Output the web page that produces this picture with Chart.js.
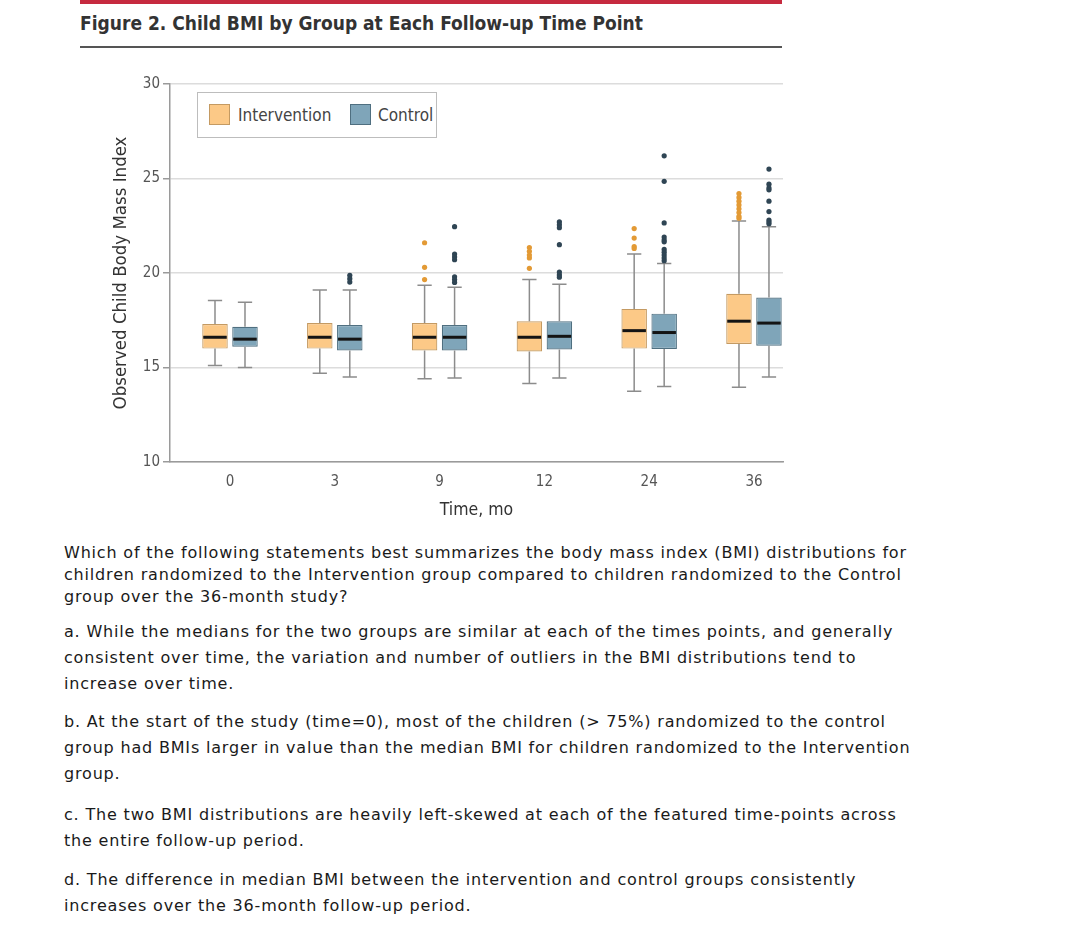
<!DOCTYPE html>
<html>
<head>
<meta charset="utf-8">
<title>Child BMI by Group</title>
<script src="https://cdn.jsdelivr.net/npm/chart.js@4.4.1/dist/chart.umd.min.js"></script>
<style>
body{margin:0;background:#fff;width:1080px;height:931px;position:relative;overflow:hidden;font-family:"DejaVu Sans",Verdana,sans-serif;}
#redbar{position:absolute;left:80px;top:0;width:702px;height:4px;background:#c62a3f;}
#title{position:absolute;left:80px;top:12px;font-family:"DejaVu Sans Condensed","DejaVu Sans",sans-serif;font-weight:bold;font-size:19px;color:#333;white-space:nowrap;}
#rule{position:absolute;left:80px;top:46px;width:702px;height:2px;background:#555;}
#chartBox{position:absolute;left:0;top:55px;width:800px;height:480px;}
#legend{position:absolute;left:197px;top:92px;width:238px;height:44px;border:1px solid #bdbdbd;background:#fff;
  font-family:"DejaVu Sans Condensed","DejaVu Sans",sans-serif;font-size:17px;color:#444;}
#legend .sw{position:absolute;top:11px;width:21px;height:21px;box-sizing:border-box;}
#legend .lb{position:absolute;top:12px;line-height:20px;white-space:nowrap;}
.q{position:absolute;left:64px;font-size:16px;letter-spacing:0.82px;color:#1a1a1a;white-space:nowrap;}
</style>
</head>
<body>
<div id="redbar"></div>
<div id="title">Figure 2. Child BMI by Group at Each Follow-up Time Point</div>
<div id="rule"></div>
<div id="chartBox"><canvas id="bmiChart" width="800" height="480"></canvas></div>
<div id="legend">
  <div class="sw" style="left:11px;background:#fcc987;border:1px solid #c49a62;"></div>
  <div class="lb" style="left:40px;">Intervention</div>
  <div class="sw" style="left:152px;background:#7fa5b9;border:1px solid #4f6f80;"></div>
  <div class="lb" style="left:180px;">Control</div>
</div>

<div class="q" style="top:542px;line-height:22px;">Which of the following statements best summarizes the body mass index (BMI) distributions for<br>children randomized to the Intervention group compared to children randomized to the Control<br>group over the 36-month study?</div>
<div class="q" style="top:619px;line-height:26px;">a. While the medians for the two groups are similar at each of the times points, and generally<br>consistent over time, the variation and number of outliers in the BMI distributions tend to<br>increase over time.</div>
<div class="q" style="top:709px;line-height:26px;">b. At the start of the study (time=0), most of the children (&gt; 75%) randomized to the control<br>group had BMIs larger in value than the median BMI for children randomized to the Intervention<br>group.</div>
<div class="q" style="top:802px;line-height:26px;">c. The two BMI distributions are heavily left-skewed at each of the featured time-points across<br>the entire follow-up period.</div>
<div class="q" style="top:867px;line-height:26px;">d. The difference in median BMI between the intervention and control groups consistently<br>increases over the 36-month follow-up period.</div>

<script>
const times = ['0', '3', '9', '12', '24', '36'];
const yTicks = [10, 15, 20, 25, 30];

// intervention group
const intMin = [15.1, 14.7, 14.4, 14.15, 13.75, 13.95];
const intQ1  = [16.0, 16.0, 15.9, 15.85, 16.0, 16.25];
const intMed = [16.6, 16.6, 16.6, 16.6, 16.95, 17.45];
const intQ3  = [17.3, 17.35, 17.35, 17.45, 18.1, 18.9];
const intMax = [18.55, 19.1, 19.35, 19.65, 21.0, 22.75];
const intOut = [[], [], [21.6, 20.3, 19.65], [21.35, 21.15, 20.95, 20.8, 20.25],
  [22.35, 21.85, 21.4, 21.3], [24.2, 24.0, 23.8, 23.6, 23.4, 23.2, 23.0, 22.9]];

// control group
const ctrlMin = [15.0, 14.5, 14.45, 14.45, 14.0, 14.5];
const ctrlQ1  = [16.1, 15.9, 15.9, 15.95, 15.98, 16.15];
const ctrlMed = [16.5, 16.5, 16.6, 16.65, 16.85, 17.35];
const ctrlQ3  = [17.15, 17.25, 17.25, 17.45, 17.85, 18.7];
const ctrlMax = [18.45, 19.1, 19.25, 19.4, 20.5, 22.45];
const ctrlOut = [[], [19.88, 19.7, 19.52], [22.45, 21.0, 20.85, 20.7, 19.8, 19.65, 19.5],
  [22.7, 22.55, 22.4, 21.5, 20.05, 19.9, 19.78],
  [26.2, 24.85, 22.65, 21.9, 21.75, 21.65, 21.25, 21.1, 20.95, 20.8, 20.65],
  [25.5, 24.7, 24.5, 24.4, 23.8, 23.25, 22.8, 22.7, 22.6]];

const condensed = '"DejaVu Sans Condensed", "DejaVu Sans", sans-serif';

// whiskers, medians and outliers drawn on top of the floating bars
const boxExtras = {
  id: 'boxExtras',
  afterDatasetsDraw(chart){
    const {ctx} = chart;
    const y = chart.scales.y;
    chart.data.datasets.forEach((ds, d) => {
      const meta = chart.getDatasetMeta(d);
      meta.data.forEach((el, i) => {
        const x = el.x, half = el.width / 2, cap = el.width * 0.28;
        ctx.save();
        ctx.strokeStyle = '#8c8c8c';
        ctx.lineWidth = 1.5;
        ctx.beginPath();
        ctx.moveTo(x, y.getPixelForValue(ds.q3[i]));
        ctx.lineTo(x, y.getPixelForValue(ds.max[i]));
        ctx.moveTo(x, y.getPixelForValue(ds.q1[i]));
        ctx.lineTo(x, y.getPixelForValue(ds.min[i]));
        ctx.moveTo(x - cap, y.getPixelForValue(ds.max[i]));
        ctx.lineTo(x + cap, y.getPixelForValue(ds.max[i]));
        ctx.moveTo(x - cap, y.getPixelForValue(ds.min[i]));
        ctx.lineTo(x + cap, y.getPixelForValue(ds.min[i]));
        ctx.stroke();
        ctx.strokeStyle = '#141414';
        ctx.lineWidth = 3;
        ctx.beginPath();
        ctx.moveTo(x - half + 1, y.getPixelForValue(ds.med[i]));
        ctx.lineTo(x + half - 1, y.getPixelForValue(ds.med[i]));
        ctx.stroke();
        ctx.fillStyle = ds.outColor;
        ds.out[i].forEach(v => {
          ctx.beginPath();
          ctx.arc(x, y.getPixelForValue(v), 2.6, 0, Math.PI * 2);
          ctx.fill();
        });
        ctx.restore();
      });
    });
  }
};

function boxData(q1, q3){
  return times.map((t, i) => ({x: i, y: [q1[i], q3[i]]}));
}

new Chart(document.getElementById('bmiChart'), {
  type: 'bar',
  data: {
    datasets: [
      { label: 'Intervention', data: boxData(intQ1, intQ3), backgroundColor: '#fcc987', borderColor: '#c49a62',
        borderWidth: 1.2, borderSkipped: false, q1: intQ1, q3: intQ3, med: intMed, min: intMin, max: intMax,
        out: intOut, outColor: '#e39a35' },
      { label: 'Control', data: boxData(ctrlQ1, ctrlQ3), backgroundColor: '#7fa5b9', borderColor: '#4f6f80',
        borderWidth: 1.2, borderSkipped: false, q1: ctrlQ1, q3: ctrlQ3, med: ctrlMed, min: ctrlMin, max: ctrlMax,
        out: ctrlOut, outColor: '#2f4554' }
    ]
  },
  options: {
    responsive: false,
    animation: false,
    devicePixelRatio: 1,
    categoryPercentage: 0.5725,
    barPercentage: 0.85,
    layout: { padding: { left: 106, top: 29, right: 17, bottom: 10 } },
    plugins: { legend: { display: false }, tooltip: { enabled: false } },
    scales: {
      x: {
        type: 'linear', min: -0.5725, max: 5.277, offset: false,
        afterBuildTicks: s => { s.ticks = times.map((t, i) => ({ value: i })); },
        afterFit: s => { s.height = 63; },
        ticks: { callback: v => times[v], color: '#555', font: { family: condensed, size: 15 }, padding: 11 },
        grid: { display: false, drawTicks: false, offset: false },
        border: { color: '#9a9a9a', width: 1.5 },
        title: { display: true, text: 'Time, mo', color: '#333', font: { family: condensed, size: 17.5 } }
      },
      y: {
        min: 10, max: 30,
        afterBuildTicks: s => { s.ticks = yTicks.map(v => ({ value: v })); },
        afterFit: s => { s.width = 64; },
        ticks: { color: '#555', font: { family: condensed, size: 15 }, padding: 3 },
        grid: { color: '#dcdcdc', lineWidth: 1.5, tickColor: '#9a9a9a', tickLength: 7 },
        border: { color: '#9a9a9a', width: 1.5 },
        title: { display: true, text: 'Observed Child Body Mass Index', color: '#333', font: { family: condensed, size: 18.5 } }
      }
    }
  },
  plugins: [boxExtras]
});
</script>
</body>
</html>
